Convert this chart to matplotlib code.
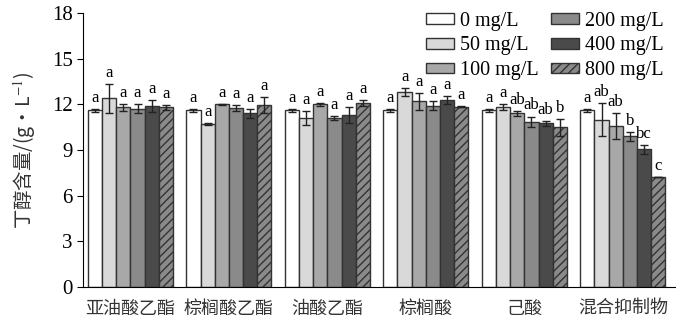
import numpy as np
import matplotlib
matplotlib.use('Agg')
import matplotlib.pyplot as plt

plt.rcParams['font.family'] = ['Liberation Serif', 'Noto Sans CJK SC']
plt.rcParams['mathtext.fontset'] = 'stix'
plt.rcParams['hatch.linewidth'] = 1.0

# 数据
groups = ['亚油酸乙酯', '棕榈酸乙酯', '油酸乙酯', '棕榈酸', '己酸', '混合抑制物']
series = ['0 mg/L', '50 mg/L', '100 mg/L', '200 mg/L', '400 mg/L', '800 mg/L']

vals_0 = [11.6, 11.6, 11.6, 11.6, 11.6, 11.6]
vals_50 = [12.4, 10.7, 11.1, 12.8, 11.8, 11.0]
vals_100 = [11.8, 12.0, 12.0, 12.2, 11.4, 10.6]
vals_200 = [11.7, 11.75, 11.1, 11.9, 10.85, 9.9]
vals_400 = [11.9, 11.4, 11.3, 12.3, 10.75, 9.05]
vals_800 = [11.8, 11.95, 12.1, 11.85, 10.5, 7.2]

err_0 = [0.1, 0.1, 0.1, 0.1, 0.1, 0.1]
err_50 = [0.95, 0.05, 0.45, 0.25, 0.2, 1.1]
err_100 = [0.25, 0.05, 0.1, 0.55, 0.15, 0.85]
err_200 = [0.3, 0.2, 0.15, 0.3, 0.35, 0.3]
err_400 = [0.4, 0.3, 0.5, 0.25, 0.15, 0.3]
err_800 = [0.15, 0.5, 0.2, 0.05, 0.55, 0.0]

letters_0 = ['a', 'a', 'a', 'a', 'a', 'a']
letters_50 = ['a', 'a', 'a', 'a', 'a', 'ab']
letters_100 = ['a', 'a', 'a', 'a', 'ab', 'ab']
letters_200 = ['a', 'a', 'a', 'a', 'ab', 'b']
letters_400 = ['a', 'a', 'a', 'a', 'ab', 'bc']
letters_800 = ['a', 'a', 'a', 'a', 'b', 'c']

vals = [vals_0, vals_50, vals_100, vals_200, vals_400, vals_800]
errs = [err_0, err_50, err_100, err_200, err_400, err_800]
letters = [letters_0, letters_50, letters_100, letters_200, letters_400, letters_800]
colors = ['#ffffff', '#d9d9d9', '#a8a8a8', '#8a8a8a', '#4a4a4a', '#8a8a8a']
hatches = [None, None, None, None, None, '////']

fig = plt.figure(figsize=(6.76, 3.23), dpi=100)
ax = fig.add_axes([0.123, 0.111, 0.877, 0.849])

x = np.arange(len(groups))
w = 0.144
for i in range(len(series)):
    pos = x + (i - 2.5) * w
    ax.bar(pos, vals[i], w, color=colors[i], edgecolor='#333333', linewidth=1.0,
           hatch=hatches[i], label=series[i], zorder=2)
    ax.errorbar(pos, vals[i], yerr=errs[i], fmt='none', ecolor='#222222',
                elinewidth=1.0, capsize=3, capthick=1.0, zorder=3)
    for j in range(len(groups)):
        ax.text(pos[j], vals[i][j] + errs[i][j] + 0.2, letters[i][j],
                ha='center', va='bottom', fontsize=12)

ax.set_xlim(-0.48, 5.54)
ax.set_ylim(0, 18)
ax.set_yticks(np.arange(0, 19, 3))
ax.set_xticks(x)
ax.set_xticklabels(groups, fontsize=13, family=['Noto Sans CJK SC'], color='#333333')
ax.tick_params(axis='x', length=0, pad=9)
ax.tick_params(axis='y', labelsize=15, direction='out', length=4)
ax.spines['top'].set_visible(False)
ax.spines['right'].set_visible(False)
ax.set_ylabel('丁醇含量/(g•L$^{-1}$)', fontsize=14, family=['Noto Sans CJK SC', 'DejaVu Sans'],
              color='#333333', labelpad=10)

ax.legend(loc='upper right', bbox_to_anchor=(1.01, 1.07), ncol=2, frameon=False,
          fontsize=14.5, handlelength=1.4, handleheight=0.45, handletextpad=0.3,
          columnspacing=0.6, labelspacing=0.28)

plt.savefig('out.png', dpi=100)
